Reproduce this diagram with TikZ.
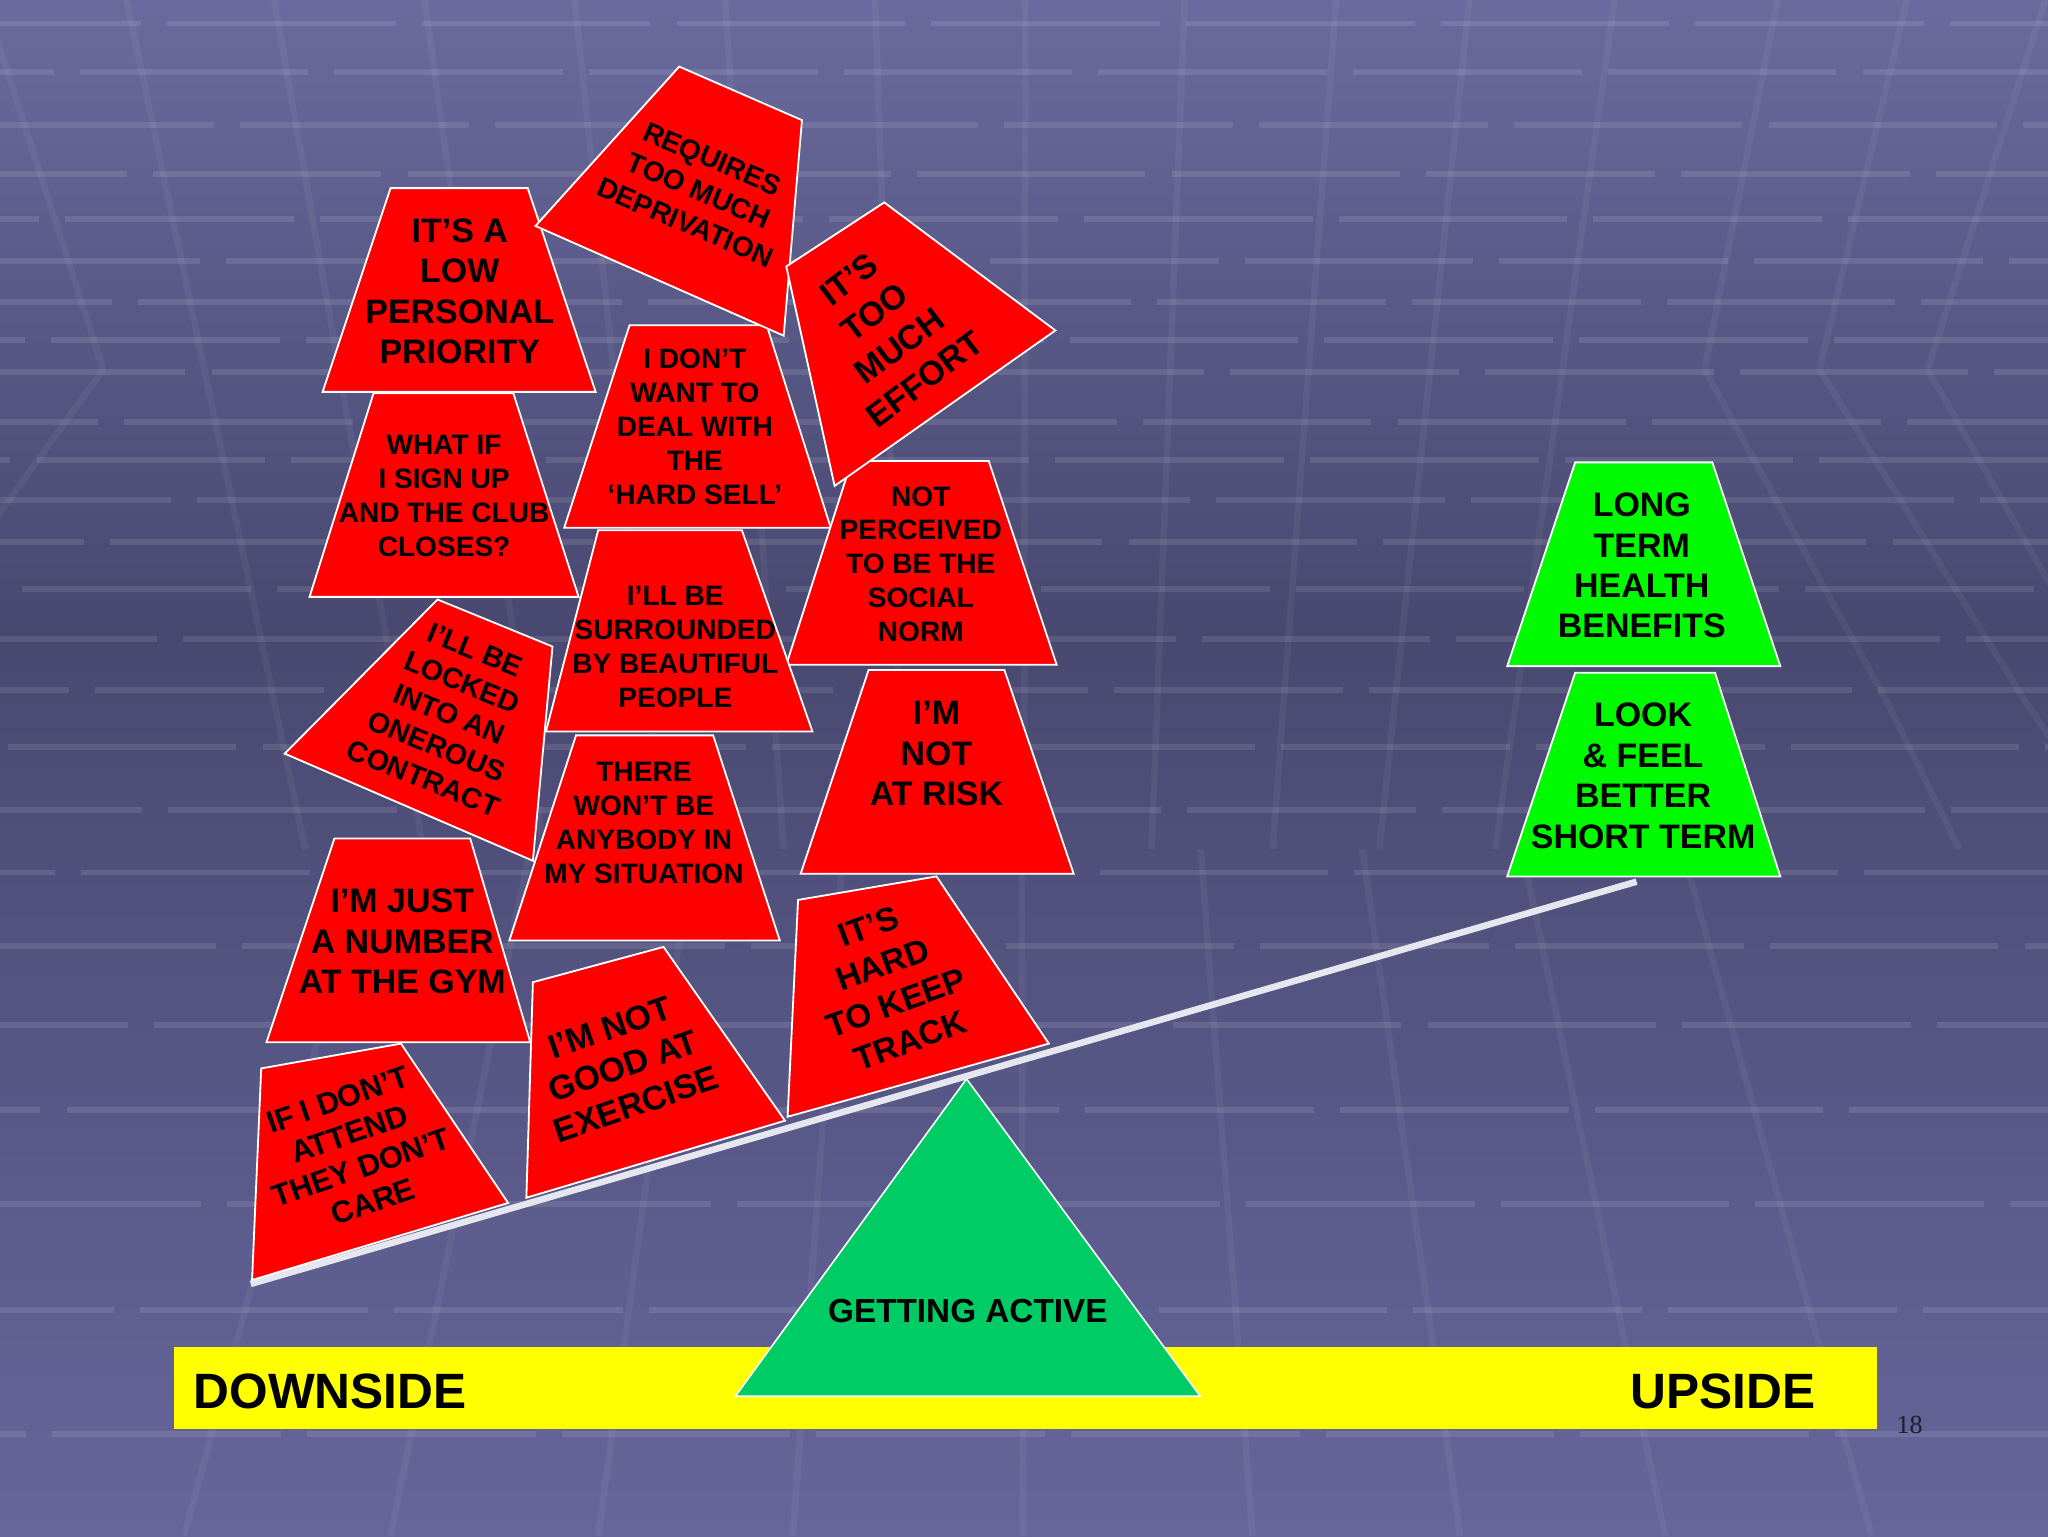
\documentclass[tikz,border=0pt]{standalone}
\usepackage{fontspec}
\setmainfont{Liberation Sans}
\newfontfamily\numfont{Liberation Serif}
\definecolor{bgtop}{RGB}{106,106,158}
\definecolor{bgmid}{RGB}{72,72,112}
\definecolor{bgbot}{RGB}{102,102,156}
\definecolor{redfill}{RGB}{255,0,0}
\definecolor{brightgreen}{RGB}{0,250,0}
\definecolor{trigreen}{RGB}{0,204,102}
\definecolor{barfill}{RGB}{255,255,0}
\definecolor{beamcol}{RGB}{230,230,238}
\definecolor{numcol}{RGB}{30,30,45}
\begin{document}
\begin{tikzpicture}[x=1pt,y=-1pt,
  redbox/.style={fill=redfill, draw=white, line width=1.4pt, line join=miter},
  greenbox/.style={fill=brightgreen, draw=white, line width=1.4pt, line join=miter},
  bigtext/.style={font=\bfseries\fontsize{26}{31}\selectfont, align=center, inner sep=0pt, text=black},
  smalltext/.style={font=\bfseries\fontsize{21.5}{26}\selectfont, align=center, inner sep=0pt, text=black},
  hline/.style={draw=white, draw opacity=0.10, line width=4.5pt},
  vline/.style={draw=white, draw opacity=0.05, line width=5pt, line join=round},
  beam/.style={draw=beamcol, line width=5pt, line cap=butt},
  sidetext/.style={font=\bfseries\fontsize{38}{40}\selectfont, inner sep=0pt, text=black},
]
\useasboundingbox (0,0) rectangle (1568,1176);
% ---------- background ----------
\fill[top color=bgtop, bottom color=bgmid] (0,0) rectangle (1568,480);
\fill[top color=bgmid, bottom color=bgbot] (0,480) rectangle (1568,1176);
\foreach \yy [count=\i] in {18,55,96,133,168,200,231,260,285,323,352,383,415,451,489,528,572,620,668,724,785,850,922,1003,1098}{
  \pgfmathsetmacro\ph{mod(\i*67,190)}
  \draw[hline, dash pattern=on 175pt off 20pt, dash phase=\ph pt] (0,\yy) -- (1568,\yy);
}
\foreach \xo in {97,210,325,440,555,670,785,907,1023,1125,1236}{
  \pgfmathsetmacro\xm{780+0.8*(\xo-780)}
  \draw[vline] (\xo,0) -- (\xm,650);
}
\foreach \xb in {141,299,458,607,783,959,1118,1275,1433}{
  \pgfmathsetmacro\xm{780+0.778*(\xb-780)}
  \draw[vline] (\xm,650) -- (\xb,1176);
}
\draw[vline] (-12,0) -- (79,283) -- (-20,420);
\draw[vline] (1566,0) -- (1476,283) -- (1580,466);
\draw[vline] (1361,0) -- (1305,283) -- (1444,536) -- (1500,650);
\draw[vline] (1460,0) -- (1393,283) -- (1550,536) -- (1580,580);
% ---------- base bar and fulcrum ----------
\fill[barfill] (133,1031) rectangle (1437,1094);
\node[sidetext, anchor=base west] (down) at (148,1078) {DOWNSIDE};
\node[sidetext, anchor=base east] (up) at (1390,1078) {UPSIDE};
\filldraw[fill=trigreen, draw=white, line width=1.2pt] (740,826) -- (919,1069) -- (563,1069) -- cycle;
\node[font=\bfseries\fontsize{25.5}{30}\selectfont, inner sep=0pt] (active) at (741,1004) {GETTING ACTIVE};
% ---------- seesaw beam ----------
\coordinate (beamL) at (192,983);
\coordinate (beamR) at (1253,675);
\draw[beam] (beamL) -- (beamR);
% ---------- red blocks ----------
% A
\filldraw[redbox] (299,144) -- (404,144) -- (456,300) -- (247,300) -- cycle;
\node[bigtext] (tA) at (352,223) {IT’S A\\LOW\\PERSONAL\\PRIORITY};
% B
\filldraw[redbox] (286,301) -- (393,301) -- (443,457) -- (237,457) -- cycle;
\node[smalltext] (tB) at (340,380) {WHAT IF\\I SIGN UP\\AND THE CLUB\\CLOSES?};
% E
\filldraw[redbox] (482,249) -- (587,249) -- (636,404) -- (432,404) -- cycle;
\node[smalltext] (tE) at (532,327) {I DON’T\\WANT TO\\DEAL WITH\\THE\\‘HARD SELL’};
% F
\filldraw[redbox] (652,353) -- (757,353) -- (809,509) -- (602,509) -- cycle;
\node[smalltext] (tF) at (705,432) {NOT\\PERCEIVED\\TO BE THE\\SOCIAL\\NORM};
% C
\filldraw[redbox] (520,51) -- (614,92) -- (600,257) -- (410,173) -- cycle;
\node[font=\bfseries\fontsize{21.5}{26.5}\selectfont, align=center, inner sep=0pt, rotate=-23] (tC) at (535,146) {REQUIRES\\TOO MUCH\\DEPRIVATION};
% D
\filldraw[redbox] (677,155) -- (808,253) -- (639,372) -- (602,204) -- cycle;
\node[font=\bfseries\fontsize{26}{32}\selectfont, align=center, inner sep=0pt, rotate=37] (tD) at (679,252) {IT’S\\TOO\\MUCH\\EFFORT};
% G
\filldraw[redbox] (458,406) -- (568,406) -- (622,560) -- (418,560) -- cycle;
\node[smalltext] (tG) at (517,495) {I’LL BE\\SURROUNDED\\BY BEAUTIFUL\\PEOPLE};
% I
\filldraw[redbox] (441,563) -- (546,563) -- (597,720) -- (390,720) -- cycle;
\node[smalltext] (tI) at (493,630) {THERE\\WON’T BE\\ANYBODY IN\\MY SITUATION};
% H
\filldraw[redbox] (335,459) -- (423,495) -- (408,659) -- (218,577) -- cycle;
\node[font=\bfseries\fontsize{22}{26.5}\selectfont, align=center, inner sep=0pt, rotate=-22] (tH) at (344,547) {I’LL BE\\LOCKED\\INTO AN\\ONEROUS\\CONTRACT};
% L
\filldraw[redbox] (611,689) -- (717,671) -- (803,799) -- (603,855) -- cycle;
\node[font=\bfseries\fontsize{25.5}{31}\selectfont, align=center, inner sep=0pt, rotate=20] (tL) at (681,753) {IT’S\\HARD\\TO KEEP\\TRACK};
% J
\filldraw[redbox] (665,513) -- (769,513) -- (822,669) -- (613,669) -- cycle;
\node[bigtext] (tJ) at (717,577) {I’M\\NOT\\AT RISK};
% K
\filldraw[redbox] (256,642) -- (360,642) -- (406,798) -- (204,798) -- cycle;
\node[bigtext] (tK) at (308,721) {I’M JUST\\A NUMBER\\AT THE GYM};
% M
\filldraw[redbox] (408,752) -- (508,725) -- (601,858) -- (403,917) -- cycle;
\node[font=\bfseries\fontsize{26}{31}\selectfont, align=center, inner sep=0pt, rotate=19] (tM) at (477,816) {I’M NOT\\GOOD AT\\EXERCISE};
% N
\filldraw[redbox] (200,818) -- (307,799) -- (389,921) -- (193,980) -- cycle;
\node[font=\bfseries\fontsize{23.5}{27.5}\selectfont, align=center, inner sep=0pt, rotate=19] (tN) at (272,881) {IF I DON’T\\ATTEND\\THEY DON’T\\CARE};
% ---------- green blocks ----------
\filldraw[greenbox] (1206,354) -- (1311,354) -- (1363,510) -- (1154,510) -- cycle;
\node[bigtext] (tO) at (1257,433) {LONG\\TERM\\HEALTH\\BENEFITS};
\filldraw[greenbox] (1206,515) -- (1313,515) -- (1363,671) -- (1154,671) -- cycle;
\node[bigtext] (tP) at (1258,594) {LOOK\\\& FEEL\\BETTER\\SHORT TERM};
% ---------- page number ----------
\node[font=\numfont\fontsize{20}{20}\selectfont, text=numcol, inner sep=0pt] (pagenum) at (1462,1091) {18};
\end{tikzpicture}
\end{document}
